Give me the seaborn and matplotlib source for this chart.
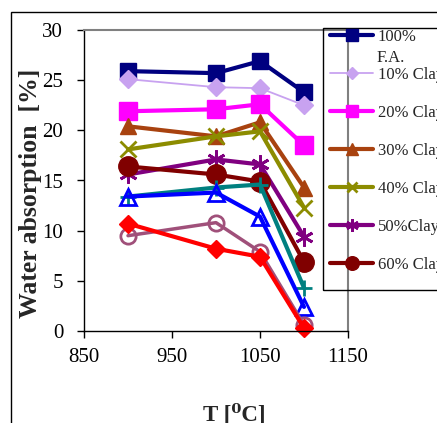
import numpy as np
import pandas as pd
import matplotlib
matplotlib.use("Agg")
import matplotlib.pyplot as plt
from matplotlib.patches import Rectangle
import seaborn as sns

# firing temperature [C]
temps = [900, 1000, 1050, 1100]

# water absorption [%] for each mix
fa100 = [25.9, 25.7, 26.9, 23.8]
clay10 = [25.1, 24.3, 24.2, 22.5]
clay20 = [21.9, 22.1, 22.6, 18.5]
clay30 = [20.4, 19.4, 20.8, 14.3]
clay40 = [18.1, 19.4, 19.9, 12.3]
clay50 = [15.6, 17.1, 16.6, 9.4]
clay60 = [16.4, 15.6, 14.9, 6.9]
clay70 = [13.4, 14.3, 14.6, 4.3]
clay80 = [13.4, 13.8, 11.4, 2.4]
clay90 = [9.5, 10.8, 7.9, 0.6]
clay100 = [10.7, 8.2, 7.4, 0.3]

labels = ["100%", "10% Clay", "20% Clay", "30% Clay", "40% Clay", "50%Clay",
          "60% Clay", "70% Clay", "80% Clay", "90% Clay", "100% Clay"]
series = [fa100, clay10, clay20, clay30, clay40, clay50, clay60,
          clay70, clay80, clay90, clay100]

# color, marker, markersize, filled, linewidth
styles = [
    ("#000080", "s", 12, True, 3.0),
    ("#C8A2F0", "D", 9, True, 1.3),
    ("#FF00FF", "s", 13, True, 3.0),
    ("#A8420F", "^", 12, True, 3.0),
    ("#8C8C00", "x", 11, True, 3.0),
    ("#800080", (6, 2, 0), 13, True, 3.0),
    ("#800000", "o", 14, True, 3.0),
    ("#008080", "+", 12, True, 3.0),
    ("#0000FF", "^", 11, False, 3.0),
    ("#A0507A", "o", 11, False, 2.5),
    ("#FF0000", "D", 9.5, True, 3.0),
]

sns.set_style("white")
plt.rcParams["font.family"] = ["Liberation Serif", "DejaVu Serif"]

fig = plt.figure(figsize=(4.37, 4.23), dpi=100)
ax = fig.add_axes([84 / 437, 1 - 331 / 423, 264 / 437, 301 / 423])

handles = []
for lab, vals, (c, m, ms, filled, lw) in zip(labels, series, styles):
    df = pd.DataFrame({"T": temps, "W": vals})
    thin = not filled or m in ("x", "+", (6, 2, 0))
    sns.lineplot(data=df, x="T", y="W", ax=ax, color=c, linewidth=lw,
                 marker=m, markersize=ms,
                 markerfacecolor=c if filled else "none",
                 markeredgecolor=c, markeredgewidth=2 if thin else 1,
                 label=lab, clip_on=False)
    handles.append(ax.lines[-1])
if ax.get_legend() is not None:
    ax.get_legend().remove()

ax.set_xlim(850, 1150)
ax.set_ylim(0, 30)
ax.set_xticks([850, 950, 1050, 1150])
ax.set_yticks([0, 5, 10, 15, 20, 25, 30])
ax.tick_params(axis="both", direction="out", length=5, width=1, colors="black",
               labelsize=15, left=True, bottom=True)
ax.tick_params(axis="y", pad=10)
ax.tick_params(axis="x", pad=7)
ax.set_xlabel("")
ax.set_ylabel("")
for s in ["left", "bottom"]:
    ax.spines[s].set_color("black")
    ax.spines[s].set_linewidth(1)
for s in ["top", "right"]:
    ax.spines[s].set_color("#808080")
    ax.spines[s].set_linewidth(1.5)

# legend (frame drawn separately, it runs off the right edge like the original)
leg = fig.legend(handles[:7], labels[:7], loc="upper left",
                 bbox_to_anchor=(330 / 437, 1 - 29 / 423),
                 frameon=False, fontsize=12, handlelength=2.6,
                 handletextpad=0.25, labelspacing=1.32, borderpad=0,
                 borderaxespad=0, markerscale=0.7)
fig.text(377 / 437, 1 - 58 / 423, "F.A.", fontsize=12, va="center", ha="left")
fig.patches.append(Rectangle((323 / 437, 1 - 290 / 423), 0.3, 262 / 423,
                             transform=fig.transFigure, fill=False,
                             edgecolor="black", linewidth=1))

fig.text(31 / 437, 1 - 193 / 423, "Water absorption  [%]", rotation=90,
         fontsize=18.5, fontweight="bold", ha="center", va="center")
fig.text(234 / 437, 1 - 420 / 423, "T [⁰C]", fontsize=16.5,
         fontweight="bold", ha="center", va="baseline")

# outer chart border
fig.patches.append(Rectangle((11 / 437, -0.2), 1.2, 1.2 - 12 / 423,
                             transform=fig.transFigure, fill=False,
                             edgecolor="black", linewidth=1))

fig.savefig("out.png", dpi=100)
